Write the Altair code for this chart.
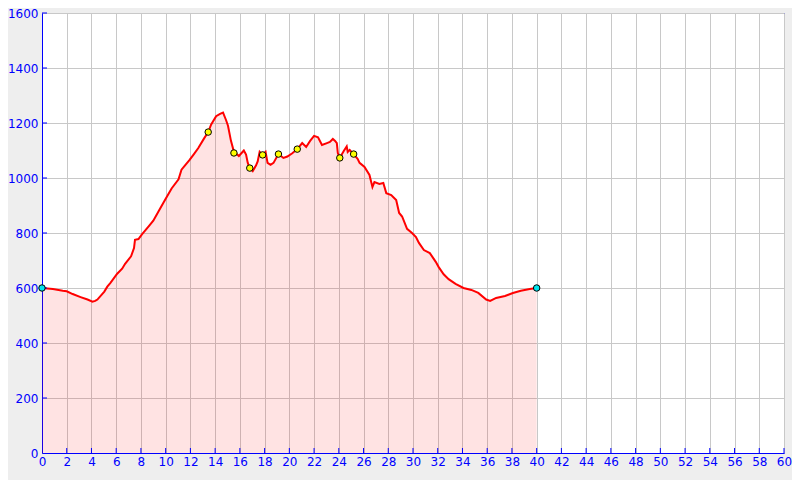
import altair as alt
import pandas as pd

# elevation profile: distance (km) and altitude (m)
dist = [0, 0.88, 1.68, 2.0, 2.48, 3.12, 3.68, 4.08, 4.3, 4.48, 5.04, 5.28, 5.52, 6.08, 6.48,
        6.72, 7.2, 7.44, 7.52, 7.8, 8.08, 8.64, 9.0, 9.44, 9.84, 10.2, 10.48, 11.04, 11.28,
        11.6, 11.92, 12.3, 12.64, 13.12, 13.44, 13.68, 14.08, 14.4, 14.64, 14.88, 15.04,
        15.28, 15.52, 15.7, 15.92, 16.32, 16.5, 16.64, 16.8, 17.04, 17.3, 17.44, 17.6,
        17.84, 18.08, 18.24, 18.48, 18.72, 19.12, 19.52, 19.84, 20.24, 20.64, 21.04, 21.36,
        21.68, 22.0, 22.32, 22.64, 23.04, 23.28, 23.52, 23.7, 23.84, 23.92, 24.08, 24.4,
        24.64, 24.72, 24.88, 25.2, 25.52, 25.68, 26.08, 26.48, 26.72, 26.88, 27.28, 27.6,
        27.84, 28.24, 28.64, 28.88, 29.12, 29.52, 29.92, 30.24, 30.48, 30.88, 31.36, 31.84,
        32.08, 32.48, 32.88, 33.44, 34.08, 34.72, 35.28, 35.92, 36.24, 36.72, 37.44, 38.08,
        38.72, 39.44, 40.0]
alt_m = [600, 596, 590, 588, 578, 567, 558, 550, 553, 558, 587, 605, 618, 652, 670,
         688, 715, 745, 775, 778, 795, 825, 845, 880, 912, 940, 962, 995, 1030,
         1048, 1065, 1088, 1109, 1145, 1167, 1195, 1225, 1233, 1238, 1211, 1190,
         1135, 1095, 1089, 1080, 1100, 1085, 1055, 1036, 1025, 1045, 1060, 1095,
         1084, 1095, 1055, 1048, 1055, 1087, 1073, 1078, 1090, 1105, 1127, 1113,
         1135, 1153, 1148, 1120, 1127, 1131, 1142, 1135, 1127, 1091, 1073, 1098,
         1115, 1095, 1102, 1087, 1070, 1055, 1040, 1011, 967, 985, 978, 982,
         945, 938, 920, 873, 860, 815, 800, 785, 764, 738, 727, 695,
         676, 650, 632, 615, 600, 593, 582, 558, 553, 564, 571, 582,
         590, 596, 600]

# waypoints
wp_dist = [13.44, 15.52, 16.8, 17.84, 19.12, 20.64, 24.08, 25.2]
wp_alt = [1167, 1091, 1036, 1084, 1087, 1105, 1073, 1087]

# start / end
se_dist = [0, 40]
se_alt = [600, 600]

x_ticks = list(range(0, 61, 2))
y_ticks = list(range(0, 1601, 200))

prof = pd.DataFrame({"d": dist, "a": alt_m})
wp = pd.DataFrame({"d": wp_dist, "a": wp_alt})
se = pd.DataFrame({"d": se_dist, "a": se_alt})
xt = pd.DataFrame({"d": x_ticks[1:]})
yt = pd.DataFrame({"a": y_ticks[1:]})

xs = alt.Scale(domain=[0, 60], nice=False, zero=False)
ys = alt.Scale(domain=[0, 1600], nice=False)

X = alt.X("d:Q", scale=xs, title=None,
          axis=alt.Axis(values=x_ticks, grid=True, ticks=False, labelPadding=3, format="d",
                        labelFlush=False, labelOverlap=False))
Y = alt.Y("a:Q", scale=ys, title=None,
          axis=alt.Axis(values=y_ticks, grid=True, ticks=False, labelPadding=4, format="d",
                        labelFlush=False, labelOverlap=False))

area = alt.Chart(prof).mark_area(color="#ff0000", fillOpacity=0.11, clip=True).encode(x=X, y=Y)
line = alt.Chart(prof).mark_line(color="#ff0000", strokeWidth=2, clip=True).encode(x=X, y=Y)
pts = alt.Chart(wp).mark_point(filled=True, fill="#ffff00", stroke="#000000", strokeWidth=1,
                               size=42, opacity=1, shape="circle").encode(x=X, y=Y)
ends = alt.Chart(se).mark_point(filled=True, fill="#00e5ee", stroke="#000000", strokeWidth=1,
                                size=42, opacity=1, shape="circle").encode(x=X, y=Y)
xtick = alt.Chart(xt).mark_rule(color="#0000ff", strokeWidth=1).encode(
    x=X, y=alt.value(440), y2=alt.value(435))
ytick = alt.Chart(yt).mark_rule(color="#0000ff", strokeWidth=1).encode(
    y=Y, x=alt.value(0), x2=alt.value(5))

chart = alt.layer(area, line, xtick, ytick, pts, ends).properties(
    width=742, height=440,
    autosize=alt.AutoSizeParams(type="none"),
    padding={"left": 34, "top": 5, "right": 8, "bottom": 27},
    background="#eeeeee",
).configure_view(
    stroke="#0000ff", strokeWidth=1, fill="#ffffff"
).configure_axis(
    domainColor="#0000ff", domainWidth=1,
    gridColor="#c8c8c8", gridWidth=1,
    labelColor="#0000ff", labelFont="DejaVu Sans", labelFontSize=12,
)

chart.save("out.html", embed_options={"renderer": "svg", "actions": False})
